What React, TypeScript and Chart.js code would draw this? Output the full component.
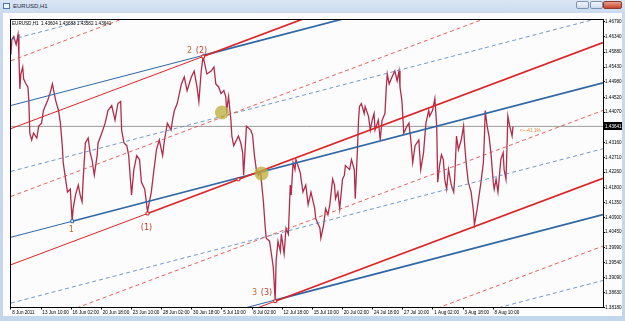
import { useEffect, useRef } from 'react';
import { Chart, registerables } from 'chart.js';

Chart.register(...registerables);

// ---- axis data ----
const BAR_STEP = 64; // H1 bars between time labels
const timeLabels = [
  '8 Jun 2011', '13 Jun 10:00', '16 Jun 02:00', '20 Jun 18:00', '23 Jun 10:00',
  '28 Jun 02:00', '30 Jun 18:00', '5 Jul 10:00', '8 Jul 02:00', '12 Jul 18:00',
  '15 Jul 10:00', '20 Jul 02:00', '24 Jul 18:00', '27 Jul 10:00', '1 Aug 02:00',
  '3 Aug 18:00', '8 Aug 10:00',
];
const priceTicks = [
  1.3818, 1.3863, 1.3909, 1.3954, 1.3999, 1.4045, 1.409, 1.4135, 1.418, 1.4226,
  1.4271, 1.4316, 1.4407, 1.4452, 1.4498, 1.4543, 1.4588, 1.4634, 1.4679,
];
const X_MIN = -2;
const X_MAX = 1257;
const Y_MIN = 1.3818;
const Y_MAX = 1.46849;

const currentPrice = 1.43641;
const infoText = 'EURUSD,H1  1.43604 1.43683 1.43582 1.43641';

// ---- price path (bar index, price) ----
const pricePath: [number, number][] = [
  [0, 1.4581], [2, 1.4626], [6, 1.4635], [11, 1.4611], [15, 1.4641], [17, 1.4572], [19, 1.4477], [21, 1.4522], [25, 1.4543], [27, 1.4507],
  [32, 1.4492], [36, 1.4483], [38, 1.4442], [40, 1.4344], [44, 1.4323], [48, 1.4344], [55, 1.4329], [59, 1.4365], [65, 1.4374], [69, 1.4412],
  [78, 1.4442], [84, 1.4469], [88, 1.4492], [95, 1.4442], [101, 1.4412], [105, 1.4374], [109, 1.4306], [111, 1.4255], [116, 1.4205], [120, 1.4166],
  [126, 1.4175], [130, 1.4077], [132, 1.4116], [137, 1.4157], [143, 1.4187], [147, 1.4157], [151, 1.4137], [153, 1.4196], [158, 1.4314], [164, 1.4329],
  [168, 1.4285], [172, 1.4264], [177, 1.4217], [183, 1.4276], [185, 1.4314], [193, 1.4344], [200, 1.4374], [206, 1.4412], [214, 1.4427], [221, 1.4383],
  [227, 1.4433], [233, 1.4439], [235, 1.4353], [240, 1.4314], [246, 1.4306], [250, 1.4276], [256, 1.4157], [261, 1.4234], [267, 1.4276], [273, 1.4264],
  [277, 1.4196], [284, 1.4175], [290, 1.4107], [298, 1.4166], [303, 1.4226], [309, 1.4294], [315, 1.4323], [322, 1.4276], [326, 1.4323],
  [332, 1.4374], [340, 1.4353], [343, 1.4383], [347, 1.4412], [353, 1.4433], [362, 1.4492], [368, 1.4513], [374, 1.4472], [383, 1.4513], [389, 1.4531],
  [395, 1.4483], [399, 1.4439], [404, 1.4531], [408, 1.4575], [416, 1.4522], [425, 1.4531], [431, 1.4543], [435, 1.4492], [441, 1.4483], [446, 1.4463],
  [452, 1.4472], [456, 1.4454], [458, 1.4412], [462, 1.4454], [467, 1.4383], [469, 1.4335], [473, 1.4306], [479, 1.4323], [483, 1.4335], [488, 1.4314],
  [492, 1.4285], [494, 1.4217], [498, 1.4314], [500, 1.4365], [509, 1.4353], [513, 1.4338], [517, 1.4276], [521, 1.4234], [525, 1.4217], [530, 1.4226],
  [532, 1.4196], [536, 1.4137], [540, 1.4057], [542, 1.4027], [549, 1.4018], [553, 1.398], [557, 1.3938], [561, 1.384], [563, 1.3959], [567, 1.4018],
  [572, 1.3988], [574, 1.4039], [580, 1.398], [584, 1.4057], [589, 1.4039], [593, 1.4187], [595, 1.4157], [599, 1.4255], [603, 1.4234], [605, 1.4264],
  [614, 1.4226], [620, 1.4166],
  [626, 1.4187], [631, 1.4128], [637, 1.4166], [645, 1.4116], [647, 1.4086], [656, 1.4057], [658, 1.4027], [664, 1.4068], [668, 1.4116], [673, 1.4098],
  [677, 1.4128], [683, 1.4205], [687, 1.4187], [689, 1.4146], [694, 1.4166], [698, 1.4116], [704, 1.4205], [708, 1.4217], [710, 1.4246], [719, 1.4234],
  [723, 1.4264], [729, 1.4234], [731, 1.4146], [736, 1.4306], [738, 1.4383], [740, 1.4424], [744, 1.4433], [750, 1.4403], [752, 1.4424], [759, 1.4395],
  [763, 1.4353], [767, 1.4383], [771, 1.4403], [773, 1.4353], [780, 1.4383], [784, 1.4323], [788, 1.4383], [794, 1.4403], [797, 1.4483], [799, 1.4522],
  [803, 1.4492], [809, 1.4513], [815, 1.4531], [820, 1.4501], [824, 1.4531], [826, 1.4483], [830, 1.4442], [834, 1.4344], [841, 1.4365], [845, 1.4374],
  [849, 1.4323], [853, 1.4255], [858, 1.4306], [866, 1.4323], [870, 1.4234], [876, 1.4285], [881, 1.4374], [887, 1.4412], [889, 1.4395], [895, 1.4412],
  [900, 1.4448],
  [904, 1.4365], [906, 1.4196], [910, 1.4246], [914, 1.4279], [918, 1.4264], [921, 1.4205], [925, 1.4175], [929, 1.4234], [935, 1.4187], [940, 1.4166],
  [942, 1.4205], [946, 1.4335], [950, 1.4294], [956, 1.4323], [961, 1.4365], [963, 1.4314], [967, 1.4246], [971, 1.4196], [977, 1.4166], [982, 1.4107],
  [984, 1.4068], [990, 1.4116], [994, 1.4157], [998, 1.4196], [1003, 1.4255], [1005, 1.4323], [1007, 1.4412], [1011, 1.4365], [1015, 1.4335], [1019, 1.4285],
  [1024, 1.4196], [1026, 1.4175], [1030, 1.4205], [1034, 1.4166], [1036, 1.4196], [1040, 1.4264], [1045, 1.4285], [1047, 1.4234], [1051, 1.4205], [1053, 1.4294],
  [1055, 1.4395], [1059, 1.4365], [1064, 1.4335], [1066, 1.4364],
];

// ---- channel lines: price at bar 0 and at right edge bar ----
const LINE_END_BAR = 1257;
const redSolidStart = [1.43574, 1.39469, 1.35379];
const redSolidEnd = [1.50273, 1.46168, 1.42077];
const redPivots: [number, number][] = [[408, 1.45749], [290, 1.41015], [561, 1.3837]];
const redDashStart = [1.4562, 1.41529, 1.37424, 1.33333];
const redDashEnd = [1.5232, 1.48228, 1.44123, 1.40032];
const blueSolidStart = [1.44271, 1.40299, 1.36327];
const blueSolidEnd = [1.48924, 1.44952, 1.40981];
const bluePivots: [number, number][] = [[408, 1.45782], [130, 1.4078], [561, 1.38404]];
const blueDashStart = [1.46257, 1.42285, 1.38313, 1.34341];
const blueDashEnd = [1.5091, 1.46938, 1.42967, 1.38995];

// markers
const redSquares: [number, number][] = [[290, 1.41015], [408, 1.45749], [561, 1.3837], [483, 1.42044]];
const blueSquares: [number, number][] = [[130, 1.4078]];
const touchCircles: [number, number][] = [[448, 1.4406], [532, 1.4222]];

// wave labels anchored on pivots
const waveLabels = [
  { a: '1', b: '', bar: 130, price: 1.4078, dx: -1, dy: 9 },
  { a: '', b: '(1)', bar: 290, price: 1.41015, dx: -1, dy: 14 },
  { a: '2', b: '(2)', bar: 408, price: 1.45749, dx: -1, dy: -6 },
  { a: '3', b: '(3)', bar: 561, price: 1.3837, dx: -8, dy: -8 },
];
const fibLabel = { text: '<---41.1%', bar: 1080, price: 1.435 };

const RED = '#dc2327';
const BLUE = '#2f66a4';
const RED_D = 'rgba(222,70,72,0.85)';
const BLUE_D = 'rgba(90,136,188,0.85)';

export default function App() {
  const ref = useRef<HTMLCanvasElement>(null);

  useEffect(() => {
    document.body.style.margin = '0';
    const canvas = ref.current!;
    const pt = (x: number, y: number) => ({ x, y });
    const datasets: any[] = [];

    touchCircles.forEach((c) =>
      datasets.push({
        data: [pt(c[0], c[1])], showLine: false, pointRadius: 7, pointBorderWidth: 0,
        pointBackgroundColor: 'rgba(188,176,62,0.78)', order: 1,
      }),
    );
    datasets.push({
      data: redSquares.map((p) => pt(p[0], p[1])), showLine: false, pointStyle: 'rect',
      pointRadius: 2, pointBorderWidth: 1, pointBorderColor: '#d02020', pointBackgroundColor: '#ffffff', order: 2,
    });
    datasets.push({
      data: blueSquares.map((p) => pt(p[0], p[1])), showLine: false, pointStyle: 'rect',
      pointRadius: 2, pointBorderWidth: 1, pointBorderColor: '#3060a0', pointBackgroundColor: '#ffffff', order: 2,
    });

    const addSolid = (start: number[], end: number[], piv: [number, number][], color: string) => {
      start.forEach((s, i) => {
        datasets.push({
          data: [pt(0, s), pt(piv[i][0], piv[i][1])], borderColor: color, borderWidth: 1,
          pointRadius: 0, order: 6,
        });
        datasets.push({
          data: [pt(piv[i][0], piv[i][1]), pt(LINE_END_BAR, end[i])], borderColor: color, borderWidth: 1.7,
          pointRadius: 0, order: 5,
        });
      });
    };
    addSolid(redSolidStart, redSolidEnd, redPivots, RED);
    addSolid(blueSolidStart, blueSolidEnd, bluePivots, BLUE);

    const addDash = (start: number[], end: number[], color: string) => {
      start.forEach((s, i) =>
        datasets.push({
          data: [pt(0, s), pt(LINE_END_BAR, end[i])], borderColor: color, borderWidth: 1,
          borderDash: [4, 3], pointRadius: 0, order: 7,
        }),
      );
    };
    addDash(redDashStart, redDashEnd, RED_D);
    addDash(blueDashStart, blueDashEnd, BLUE_D);

    datasets.push({
      data: [pt(X_MIN, currentPrice), pt(X_MAX, currentPrice)], borderColor: '#9a9a9a', borderWidth: 1,
      pointRadius: 0, order: 9,
    });
    datasets.push({
      data: pricePath.map((p) => pt(p[0], p[1])), borderColor: '#b02c4a', borderWidth: 1.3,
      pointRadius: 0, order: 8,
    });

    const overlay = {
      id: 'overlay',
      afterDraw(chart: any) {
        const { ctx, chartArea: a, scales } = chart;
        const xs = scales.x;
        const ys = scales.y;
        ctx.save();
        // frame
        ctx.strokeStyle = '#000';
        ctx.lineWidth = 1;
        ctx.strokeRect(a.left + 0.5, a.top - 0.5, a.right - a.left, a.bottom - a.top + 0.5);
        // info text
        ctx.fillStyle = '#000';
        ctx.font = '4.6px "Liberation Sans"';
        ctx.textAlign = 'left';
        ctx.textBaseline = 'middle';
        ctx.fillText(infoText, a.left + 2, a.top + 4);
        // current price box
        const cy = ys.getPixelForValue(currentPrice);
        ctx.fillStyle = '#000';
        ctx.fillRect(a.right + 1, Math.round(cy) - 4, 18, 8);
        ctx.fillStyle = '#fff';
        ctx.fillText(currentPrice.toFixed(5), a.right + 2, cy);
        // wave labels
        ctx.font = '8px "DejaVu Sans"';
        waveLabels.forEach((w) => {
          const px = xs.getPixelForValue(w.bar) + w.dx;
          const py = ys.getPixelForValue(w.price) + w.dy;
          if (w.a && w.b) {
            ctx.textAlign = 'right';
            ctx.fillStyle = '#c06a2e';
            ctx.fillText(w.a, px - 10, py);
            ctx.fillStyle = '#c23a2a';
            ctx.fillText(w.b, px + 5, py);
          } else {
            ctx.textAlign = 'center';
            ctx.fillStyle = w.a ? '#c06a2e' : '#c23a2a';
            ctx.fillText(w.a || w.b, px, py);
          }
        });
        // fib label
        ctx.font = '4.8px "Liberation Sans"';
        ctx.textAlign = 'left';
        ctx.fillStyle = '#e08a3c';
        ctx.fillText(fibLabel.text, xs.getPixelForValue(fibLabel.bar), ys.getPixelForValue(fibLabel.price));
        ctx.restore();
      },
    };

    const chart = new Chart(canvas, {
      type: 'line',
      data: { datasets },
      options: {
        animation: false,
        responsive: false,
        devicePixelRatio: 1,
        events: [],
        layout: { padding: { left: 1, top: 2, right: 0, bottom: 0 } },
        plugins: { legend: { display: false }, tooltip: { enabled: false } },
        elements: { line: { tension: 0 } },
        scales: {
          x: {
            type: 'linear', min: X_MIN, max: X_MAX, position: 'bottom',
            afterFit: (s: any) => { s.height = 8.5; },
            afterBuildTicks: (s: any) => { s.ticks = timeLabels.map((_, i) => ({ value: i * BAR_STEP })); },
            ticks: {
              autoSkip: false, maxRotation: 0, minRotation: 0, align: 'start', padding: 0,
              color: '#000', font: { family: 'Liberation Sans', size: 4.6 },
              callback: (_v: any, i: number) => ' ' + timeLabels[i],
            },
            grid: { drawOnChartArea: false, tickLength: 2, color: '#000' },
            border: { display: false },
          },
          y: {
            type: 'linear', position: 'right', min: Y_MIN, max: Y_MAX,
            afterFit: (s: any) => { s.width = 19; },
            afterBuildTicks: (s: any) => { s.ticks = priceTicks.map((v) => ({ value: v })); },
            ticks: {
              autoSkip: false, crossAlign: 'near', padding: 0, color: '#000',
              font: { family: 'Liberation Sans', size: 4.6 },
              callback: (v: any) => Number(v).toFixed(5),
            },
            grid: { drawOnChartArea: false, tickLength: 2, color: '#000' },
            border: { display: false },
          },
        },
      } as any,
      plugins: [overlay],
    });
    return () => chart.destroy();
  }, []);

  const btn = (left: number, width: number, bg: string, border: string) => ({
    position: 'absolute' as const, left, top: 1, width, height: 8, background: bg,
    border: `1px solid ${border}`, borderRadius: 2, boxSizing: 'border-box' as const,
  });

  return (
    <div
      style={{
        position: 'absolute', left: 0, top: 0, width: 625, height: 321, overflow: 'hidden',
        background: 'linear-gradient(to bottom, #dbe6f4 0px, #c9d9ee 14px, #c4d6ec 100%)',
      }}
    >
      <div style={{ position: 'absolute', left: 3, top: 3, width: 7, height: 6, border: '1px solid #4d78b0', background: '#eef4fb', boxSizing: 'border-box' }} />
      <div style={{ position: 'absolute', left: 13, top: 2, fontFamily: '"Liberation Sans"', fontSize: 6, lineHeight: '9px', color: '#1b2a3c' }}>
        EURUSD,H1
      </div>
      <div style={btn(576, 13, 'linear-gradient(#f1f5fb,#cfdcee)', '#7d93b5')} />
      <div style={btn(590, 13, 'linear-gradient(#f1f5fb,#cfdcee)', '#7d93b5')} />
      <div style={btn(603, 19, 'linear-gradient(#e9a08f,#c7452c)', '#8d3a2c')} />
      <div style={{ position: 'absolute', left: 3, top: 13, width: 619, height: 303, background: '#fcfcfc' }}>
        <canvas ref={ref} width={619} height={303} style={{ display: 'block' }} />
      </div>
    </div>
  );
}
